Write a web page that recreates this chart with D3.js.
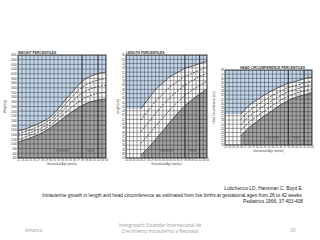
<!DOCTYPE html>
<html><head><meta charset="utf-8">
<script src="https://cdn.jsdelivr.net/npm/d3@7"></script>
<style>body{margin:0;background:#fff}svg{display:block}text{font-family:"Liberation Sans",Arial,sans-serif}</style>
</head><body><svg id="c" width="320" height="240"></svg>
<script>
// ---- data ----
const weekTicks = d3.range(22, 45);
const termLines = [38, 42];

const weightWeeks = [22,24,26,28,30,32,34,36,38,40,42,44];
const weightP90 = [1570,1650,1790,1940,2150,2490,2920,3300,3670,3880,4010,4070];
const weightP75 = [1450,1540,1660,1820,2030,2350,2740,3110,3420,3620,3730,3790];
const weightP50 = [1330,1430,1540,1700,1910,2210,2560,2880,3170,3340,3450,3500];
const weightP25 = [1200,1310,1430,1580,1790,2060,2370,2650,2900,3060,3160,3210];
const weightP10 = [1080,1190,1320,1470,1680,1920,2190,2430,2640,2790,2880,2920];
const weightTicks = d3.range(400, 4801, 200);

const lengthWeeks = [26,28,30,32,34,36,38,40,42,44];
const lengthP90 = [43.5,45.7,47.9,49.5,51.0,51.9,52.9,53.4,54.0,54.5];
const lengthP75 = [40.8,43.0,45.2,46.9,48.6,49.8,51.0,51.7,52.5,53.1];
const lengthP50 = [38.1,40.2,42.4,44.3,46.1,47.6,49.0,50.0,51.0,51.7];
const lengthP25 = [35.4,37.3,39.4,41.3,43.3,45.0,46.6,47.8,48.9,49.9];
const lengthP10 = [32.7,34.3,36.3,38.3,40.4,42.4,44.2,45.6,46.9,48.1];
const lengthTicks = d3.range(32, 57, 1);

const headWeeks = [26,28,30,32,34,36,38,40,42,44];
const headP90 = [27.4,29.4,30.8,32.0,33.1,34.0,34.8,35.3,35.9,36.3];
const headP75 = [26.1,28.1,29.5,30.8,31.9,32.9,33.8,34.3,34.9,35.4];
const headP50 = [24.8,26.8,28.2,29.5,30.7,31.8,32.8,33.4,34.0,34.5];
const headP25 = [23.5,25.4,26.9,28.2,29.5,30.7,31.7,32.4,33.0,33.5];
const headP10 = [22.2,24.1,25.6,27.0,28.3,29.6,30.7,31.5,32.0,32.6];
const headTicks = d3.range(20, 39, 1);

const citation = [
  "Lubchenco LO, Hansman C, Boyd E:",
  "Intrauterine growth in length and head circumference as estimated from live births at gestational ages from 26 to 42 weeks.",
  "Pediatrics 1966; 37:403-408"
];
const footerLeft = "Amanzo";
const footerCenter = ["Intergrowth: Estándar Internacional de", "Crecimiento Intrauterino y Neonatal"];
const footerRight = "20";

// ---- drawing ----
const svg = d3.select("#c");
const BLUE = "#c3d7ec", GRAY = "#a3a3a3", INK = "#2a2a2a";

function drawChart(cfg, idx) {
  const x = d3.scaleLinear().domain([22, 44]).range([cfg.x0, cfg.x1]);
  const y = d3.scaleLinear().domain([cfg.ticks[0], cfg.ticks[cfg.ticks.length - 1]]).range([cfg.y1, cfg.y0]);
  const g = svg.append("g");
  const clipId = "clip" + idx;
  g.append("clipPath").attr("id", clipId).append("rect")
    .attr("x", cfg.x0).attr("y", cfg.y0).attr("width", cfg.x1 - cfg.x0).attr("height", cfg.y1 - cfg.y0);
  const p = g.append("g").attr("clip-path", `url(#${clipId})`);
  p.append("rect").attr("x", cfg.x0).attr("y", cfg.y0).attr("width", cfg.x1 - cfg.x0).attr("height", cfg.y1 - cfg.y0).attr("fill", "#fff");

  const pts = k => cfg.weeks.map((w, i) => [w, cfg[k][i]]);
  const upper = pts("p90");
  const blueData = (cfg.weeks[0] > 22 ? [[22, upper[0][1]], [cfg.weeks[0] - 0.001, upper[0][1]]] : []).concat(upper);
  p.append("path").datum(blueData)
    .attr("d", d3.area().x(d => x(d[0])).y0(cfg.y0 - 1).y1(d => y(d[1])).curve(d3.curveMonotoneX))
    .attr("fill", BLUE);
  const lower = pts("p10");
  p.append("path").datum(lower)
    .attr("d", d3.area().x(d => x(d[0])).y0(cfg.y1 + 1).y1(d => y(d[1])).curve(d3.curveMonotoneX))
    .attr("fill", GRAY);

  // grid
  p.selectAll(".hg").data(cfg.ticks).join("line")
    .attr("x1", cfg.x0).attr("x2", cfg.x1).attr("y1", d => y(d)).attr("y2", d => y(d))
    .attr("stroke", INK).attr("stroke-width", 0.45);
  p.selectAll(".vg").data(weekTicks).join("line")
    .attr("y1", cfg.y0).attr("y2", cfg.y1).attr("x1", d => x(d)).attr("x2", d => x(d))
    .attr("stroke", INK).attr("stroke-width", d => termLines.includes(d) ? 1.1 : 0.45);

  // curves
  const line = d3.line().x(d => x(d[0])).y(d => y(d[1])).curve(d3.curveMonotoneX);
  ["p90", "p10"].forEach(k => p.append("path").datum(pts(k)).attr("d", line)
    .attr("fill", "none").attr("stroke", INK).attr("stroke-width", 0.7));
  ["p75", "p50", "p25"].forEach(k => p.append("path").datum(pts(k)).attr("d", line)
    .attr("fill", "none").attr("stroke", INK).attr("stroke-width", 0.7).attr("stroke-dasharray", "2.2,1.2"));

  // region labels
  p.append("text").attr("x", x(cfg.pretermAt)).attr("y", cfg.y1 - 6).attr("font-size", 2.6)
    .attr("fill", "#555").attr("text-anchor", "middle").text("PRETERM");
  p.append("text").attr("x", x(40)).attr("y", cfg.y1 - 6).attr("font-size", 2.6)
    .attr("fill", "#555").attr("text-anchor", "middle").text("TERM");

  g.append("rect").attr("x", cfg.x0).attr("y", cfg.y0).attr("width", cfg.x1 - cfg.x0).attr("height", cfg.y1 - cfg.y0)
    .attr("fill", "none").attr("stroke", INK).attr("stroke-width", 0.9);

  // axes
  const ya = g.append("g").attr("transform", `translate(${cfg.x0},0)`)
    .call(d3.axisLeft(y).tickValues(cfg.ticks).tickSize(0).tickPadding(1.2).tickFormat(d3.format("d")));
  ya.select(".domain").remove();
  ya.selectAll("text").attr("font-size", cfg.tickFont).attr("fill", "#333").style("font-family", "Liberation Sans, Arial, sans-serif");
  const xa = g.append("g").attr("transform", `translate(0,${cfg.y1})`)
    .call(d3.axisBottom(x).tickValues(weekTicks).tickSize(0).tickPadding(1.2).tickFormat(d3.format("d")));
  xa.select(".domain").remove();
  xa.selectAll("text").attr("font-size", 2.6).attr("fill", "#333").style("font-family", "Liberation Sans, Arial, sans-serif");

  g.append("text").attr("x", cfg.titleX).attr("y", cfg.y0 - 1.5).attr("font-size", 3.4).attr("font-weight", "bold")
    .attr("fill", "#333").text(cfg.title);
  g.append("text").attr("x", (cfg.x0 + cfg.x1) / 2).attr("y", cfg.y1 + 6.5).attr("font-size", 2.8)
    .attr("fill", "#444").attr("text-anchor", "middle").text("Gestational Age (weeks)");
  g.append("text").attr("transform", `translate(${cfg.yTitleX},${(cfg.y0 + cfg.y1) / 2}) rotate(-90)`)
    .attr("font-size", 2.8).attr("fill", "#444").attr("text-anchor", "middle").text(cfg.yTitle);
}

drawChart({x0: 18, x1: 106, y0: 55, y1: 158, ticks: weightTicks, weeks: weightWeeks,
  p90: weightP90, p75: weightP75, p50: weightP50, p25: weightP25, p10: weightP10,
  title: "WEIGHT PERCENTILES", titleX: 18, yTitle: "Weight (g)", yTitleX: 6, tickFont: 2.6, pretermAt: 33}, 0);
drawChart({x0: 126, x1: 207, y0: 55, y1: 158, ticks: lengthTicks, weeks: lengthWeeks,
  p90: lengthP90, p75: lengthP75, p50: lengthP50, p25: lengthP25, p10: lengthP10,
  title: "LENGTH PERCENTILES", titleX: 126, yTitle: "Length (cm)", yTitleX: 118.5, tickFont: 2.6, pretermAt: 33}, 1);
drawChart({x0: 225, x1: 312, y0: 70, y1: 145, ticks: headTicks, weeks: headWeeks,
  p90: headP90, p75: headP75, p50: headP50, p25: headP25, p10: headP10,
  title: "HEAD CIRCUMFERENCE PERCENTILES", titleX: 240, yTitle: "Head Circumference (cm)", yTitleX: 215, tickFont: 2.6, pretermAt: 34}, 2);

// citation
svg.selectAll(".cit").data(citation).join("text")
  .attr("x", 303).attr("y", (d, i) => 190 + i * 6.6).attr("text-anchor", "end")
  .attr("font-size", 4.8).attr("fill", "#222").text(d => d);

// footer
svg.append("text").attr("x", 25).attr("y", 232).attr("font-size", 4.6).attr("fill", "#9a9a9a")
  .style("font-family", "Open Sans, sans-serif").text(footerLeft);
svg.selectAll(".fc").data(footerCenter).join("text")
  .attr("x", 160).attr("y", (d, i) => 226.5 + i * 6.3).attr("text-anchor", "middle")
  .attr("font-size", 4.6).attr("fill", "#9a9a9a").style("font-family", "Open Sans, sans-serif").text(d => d);
svg.append("text").attr("x", 293).attr("y", 232).attr("font-size", 4.6).attr("fill", "#9a9a9a")
  .attr("text-anchor", "middle").style("font-family", "Open Sans, sans-serif").text(footerRight);
</script>
</body></html>
